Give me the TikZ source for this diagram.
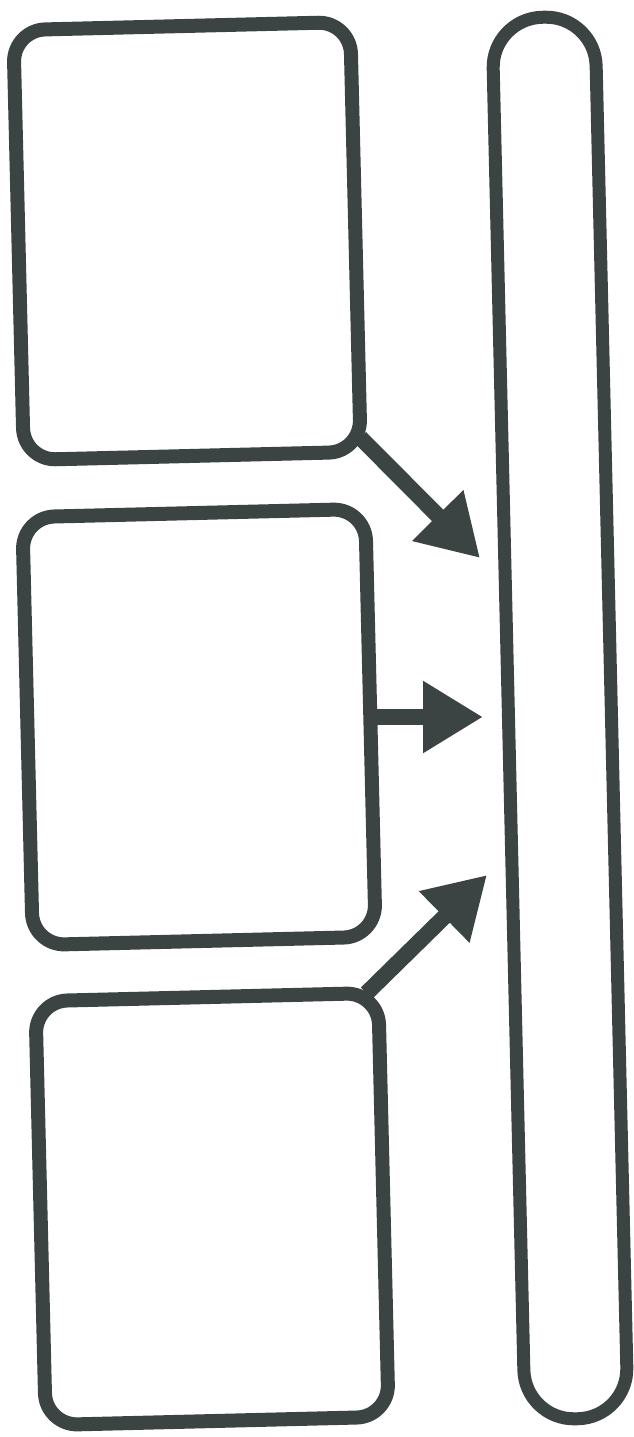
\documentclass[tikz,border=0pt]{standalone}
\usetikzlibrary{arrows.meta}

\definecolor{ink}{HTML}{3B4443}

\begin{document}
\begin{tikzpicture}[x=1pt, y=-1pt, line width=14pt, line cap=round, line join=round,
    draw=ink,
    slab/.style={draw=ink, line width=14pt, rounded corners=32pt, outer sep=0pt, inner sep=0pt, rotate=1.4},
    rail/.style={draw=ink, line width=13pt, rounded corners=50pt, outer sep=0pt, inner sep=0pt, rotate=1.35},
    feed/.style={draw=ink, line width=16pt, line cap=butt, -{Triangle[length=60pt, width=68pt]}}]

  %% ════ 三个方框 ════
  \node[slab, minimum width=337pt, minimum height=430pt] (b1) at (187,241) {};
  \node[slab, minimum width=343pt, minimum height=428pt] (b2) at (199,727) {};
  \node[slab, minimum width=343pt, minimum height=424pt] (b3) at (212,1209) {};

  %% ════ 右侧长条 ════
  \node[rail, minimum width=103pt, minimum height=1402pt] (bar) at (560,718) {};

  %% ════ 箭头落点 ════
  \coordinate (t1) at (480,558);
  \coordinate (t2) at (483,717);
  \coordinate (t3) at (487,875);

  %% ════ 箭头 ════
  \draw[feed] (b1.-50) -- (t1);
  \draw[feed] (b2.east |- t2) -- (t2);
  \draw[feed] (b3.53) -- (t3);

  % 钉死画布
  \pgfresetboundingbox
  \path[use as bounding box] (0,0) rectangle (634,1437);
\end{tikzpicture}
\end{document}
